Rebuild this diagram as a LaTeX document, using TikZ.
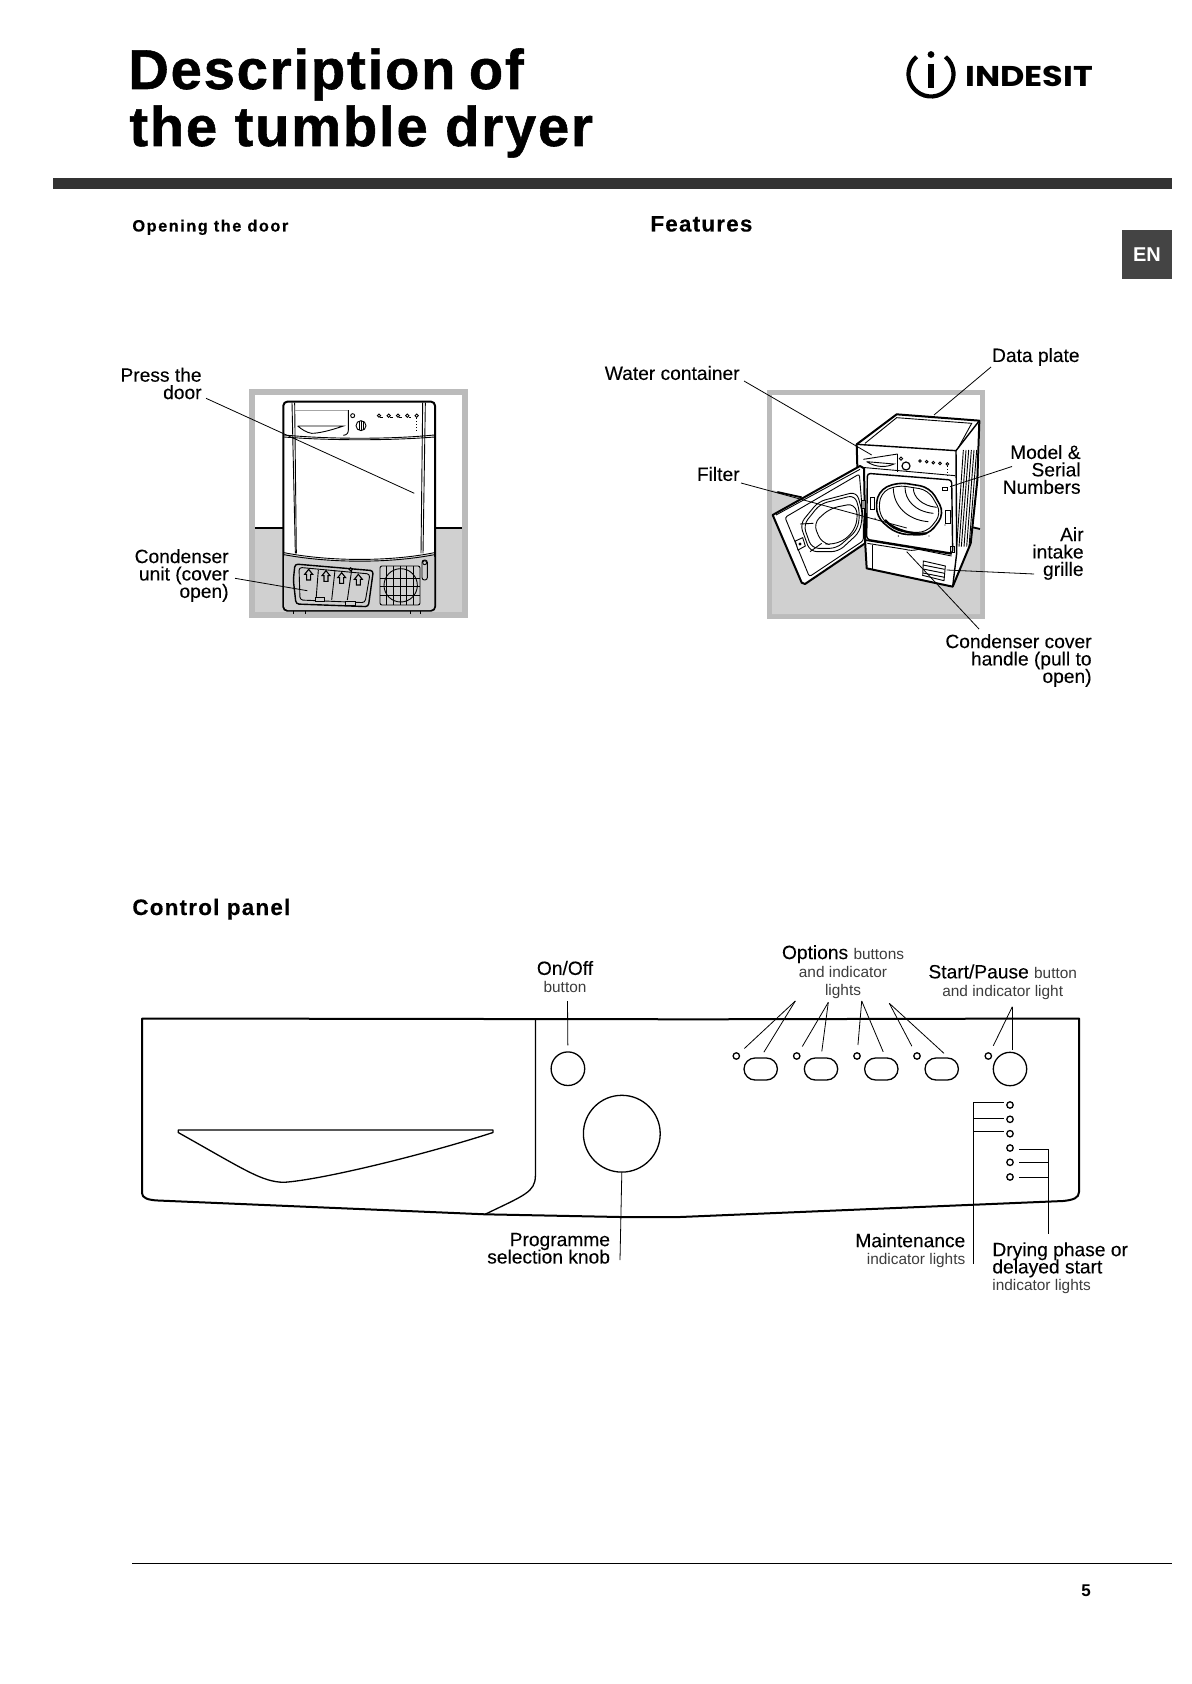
\documentclass[tikz,border=0pt]{standalone}
\usepackage{fontspec}
\usepackage{xcolor}
\usetikzlibrary{calc,shapes.misc}
\setmainfont{Liberation Sans}
\newfontfamily\medfont[FakeBold=0.12]{Liberation Sans}
\newfontfamily\titlefont[LetterSpace=3.4,FakeBold=1]{Liberation Sans Bold}
\newfontfamily\headfont[LetterSpace=5.5,FakeBold=0.3]{Liberation Sans Bold}
\newfontfamily\openfont[LetterSpace=9,FakeBold=0.3]{Liberation Sans Bold}
\newfontfamily\logofont{Poppins}
\definecolor{frameGray}{HTML}{BBBBBB}
\definecolor{floorGray}{HTML}{D0D0D0}
\definecolor{ruleDark}{HTML}{333333}
\definecolor{enGray}{HTML}{444444}
\definecolor{thinGray}{HTML}{3C3C3C}
\lineskiplimit=-5pt
\normallineskiplimit=-5pt
\newcommand{\thintext}[1]{{\fontsize{7.7}{9}\selectfont\normalfont\color{thinGray}#1}}
\tikzset{
  lblright/.style={anchor=east,align=right,inner sep=0pt,font=\fontsize{9.6}{8.7}\selectfont\medfont},
  lblcenter/.style={align=center,inner sep=0pt,font=\fontsize{9.6}{9}\selectfont\medfont},
  lblleft/.style={anchor=west,align=left,inner sep=0pt,font=\fontsize{9.6}{8.6}\selectfont\medfont},
  heading/.style={anchor=base west,inner sep=0pt},
  leader/.style={line width=0.4pt},
  panelline/.style={line width=0.65pt},
  ledlight/.style={circle,draw,line width=0.65pt,inner sep=0pt,minimum size=3.2pt},
  optbutton/.style={rounded rectangle,draw,line width=0.65pt,inner sep=0pt,minimum width=16.7pt,minimum height=11pt},
  roundbutton/.style={circle,draw,line width=0.65pt,inner sep=0pt},
  drawn/.style={line width=0.45pt},
  heavy/.style={line width=1pt,line join=round},
  zoomfront/.style={shift={(230,380)},x=0.16667pt,y=-0.16667pt},
  zoomopen/.style={shift={(750,380)},x=0.16667pt,y=-0.16667pt},
}
\begin{document}
\begin{tikzpicture}[x=0.5pt,y=-0.5pt]
    \useasboundingbox (0,0) rectangle (1191,1684);
    % page furniture
    \node[heading,font=\fontsize{28}{29}\selectfont\titlefont] (titleA) at (128,89) {Description\hspace{-2pt} of};
    \node[heading,font=\fontsize{28}{29}\selectfont\titlefont] (titleB) at (129,146) {the tumble dryer};
    \fill[ruleDark] (53,178) rectangle (1172,189);
    \node[fill=enGray,text=white,font=\fontsize{10}{10}\selectfont\bfseries,minimum width=25pt,minimum height=24.5pt,inner sep=0pt] (enTab) at (1147,254.5) {EN\hspace{5.4pt}};
    \draw[line width=0.8pt] (132,1563.5) -- (1172,1563.5);
    \node[font=\fontsize{8.5}{9}\selectfont\bfseries,inner sep=0pt] (pageNum) at (1086,1591) {5};
    \node[heading,font=\fontsize{8.2}{9}\selectfont\openfont] (openHead) at (132,231.5) {Opening the door};
    \node[heading,font=\fontsize{11.2}{12}\selectfont\headfont] (featHead) at (650,231.5) {Features};
    \node[heading,font=\fontsize{11.2}{12}\selectfont\headfont] (ctrlHead) at (132,915) {Control panel};
    % logo
    \draw[line width=2.1pt] (931,74) ++(-50:22.5) arc[start angle=-50,end angle=230,radius=22.5];
    \draw[line width=2.7pt] (931,64) -- (931,88);
    \fill (931,54.5) circle (3.4);
    \node[anchor=west,inner sep=0pt,font=\fontsize{14.3}{15}\selectfont\logofont\bfseries,xscale=1.17] (logoText) at (965,76) {INDESIT};
    % dryer seen from the front
    \begin{scope}[zoomfront]
        \fill[frameGray] (57,27) rectangle (714,715);
        \fill[white] (75,45) rectangle (697,697);
        \fill[floorGray] (75,445) rectangle (697,697);
        \draw[line width=0.9pt] (75,445) -- (697,445);
        \filldraw[fill=white,heavy,rounded corners=2pt] (160,65) rectangle (615,692);
        \fill[floorGray,rounded corners=2pt] (162,520) .. controls (300,548) and (480,548) .. (613,520) -- (613,690) -- (162,690) -- cycle;
        \draw[drawn] (162,518) .. controls (300,545) and (480,545) .. (613,518);
        \draw[drawn] (162,524) .. controls (300,550) and (480,550) .. (613,524);
        \draw[drawn] (162,165) .. controls (300,178) and (480,178) .. (613,165);
        \draw[drawn] (162,171) .. controls (300,182) and (480,182) .. (613,171);
        \foreach \x/\y in {186/196,194/199,586/579,578/573}
            \draw[drawn] (\x,68) -- (\y,520);
        \draw[drawn] (355,90) -- (355,150) .. controls (355,160) and (350,165) .. (340,166);
        \draw[drawn,black!35] (194,90) -- (355,90);
        \draw[drawn] (203,138) -- (340,138) .. controls (300,152) and (265,160) .. (245,160) .. controls (230,158) and (215,148) .. (203,138);
        \draw[drawn] (368,107) circle (6);
        \draw[drawn] (393,137) circle (15);
        \foreach \x in {387,393,399}
            \draw[drawn] (\x,124) -- (\x,150);
        \foreach \x in {447,476,504,532,560}
            \draw[drawn] (\x,107) circle (5);
        \foreach \x in {447,476,504,532}
            \draw[drawn] (\x+4,112) -- (\x+12,112);
        \draw[drawn,densely dotted] (558,115) -- (558,158);
        % condenser flap
        \draw[heavy,line width=0.7pt,rounded corners=1.5pt] (195,552) -- (430,572) -- (415,680) -- (198,672) -- (190,600) -- cycle;
        \draw[drawn,rounded corners=1.5pt] (207,562) -- (420,582) -- (405,668) -- (210,660) -- cycle;
        \foreach \x/\y in {236/583,288/587,335/593,385/598}
            \draw[drawn,line width=0.55pt] (\x-6,\y+17) -- (\x-6,\y) -- (\x-12,\y) -- (\x,\y-15) -- (\x+12,\y) -- (\x+6,\y) -- (\x+6,\y+17) -- cycle;
        \foreach \x/\y in {265/258,315/305,365/352}
            \draw[drawn] (\x,570) -- (\y,660);
        \filldraw[drawn,fill=floorGray] (255,653) rectangle (282,665);
        \filldraw[drawn,fill=floorGray] (347,664) rectangle (375,676);
        \draw[drawn] (362,568) circle (5);
        \draw[drawn] (340,565) -- (357,565);
        % grille
        \draw[drawn,rounded corners=1pt] (450,558) rectangle (570,675);
        \draw[drawn] (512,616) circle (50);
        \foreach \x in {470,490,510,530,550}
            \draw[drawn] (\x,558) -- (\x,675);
        \foreach \y in {595,620,645}
            \draw[drawn] (450,\y) -- (570,\y);
        \draw[drawn,rounded corners=1.2pt] (576,540) rectangle (592,600);
        \draw[drawn] (584,548) circle (6);
        % feet
        \foreach \x in {190,225,540,572}
            \draw[drawn] (\x,692) -- (\x,702);
    \end{scope}
    % dryer with the door open
    \begin{scope}[zoomopen]
        \fill[frameGray] (52,30) rectangle (704,718);
        \fill[white] (66,44) rectangle (690,702);
        \fill[floorGray] (66,330) -- (340,395) -- (620,430) -- (690,447) -- (690,702) -- (66,702) -- cycle;
        \draw[line width=0.9pt] (82,336) -- (155,352);
        \draw[line width=0.9pt] (660,440) -- (690,447);
        % side and top
        \filldraw[fill=white,heavy] (320,193) -- (440,103) -- (688,122) -- (682,300) -- (662,490) -- (608,620) -- (350,565) -- (345,480) -- (322,262) -- cycle;
        \draw[drawn] (345,190) -- (440,113) -- (665,130) -- (625,203);
        \draw[line width=0.7pt] (320,193) -- (618,212) -- (688,122);
        \draw[line width=0.7pt] (618,212) -- (620,520) -- (608,620);
        \foreach \a/\b in {632/618,640/625,648/632,656/640,664/648,672/655}
            \draw[drawn] (\a+8,210) -- (\b+2,500);
        % control strip
        \draw[drawn] (335,262) -- (615,287);
        \draw[drawn] (443,222) -- (443,276);
        \draw[drawn] (340,238) -- (443,222);
        \draw[drawn] (350,245) -- (432,252) .. controls (410,262) and (380,264) .. (350,245);
        \draw[drawn] (453,236) circle (5);
        \draw[line width=0.6pt] (468,258) circle (12);
        \foreach \x/\y in {510/243,530/245,550/248,570/250,592/252}
            \draw[drawn] (\x,\y) circle (4);
        \draw[drawn,densely dotted] (592,258) -- (592,285);
        % opening and drum
        \draw[line width=0.7pt,rounded corners=1.5pt] (352,280) -- (605,300) -- (608,520) -- (350,478) -- cycle;
        \filldraw[fill=white,line width=0.8pt,rounded corners=5pt] (382,335) -- (440,306) -- (540,322) -- (584,400) -- (535,466) -- (440,462) -- (378,410) -- cycle;
        \draw[drawn,rounded corners=4.5pt] (390,340) -- (440,315) -- (535,330) -- (575,400) -- (530,458) -- (440,455) -- (387,408) -- cycle;
        \draw[drawn] (430,325) .. controls (430,375) and (470,420) .. (535,425);
        \draw[drawn] (465,322) .. controls (465,360) and (495,395) .. (550,400);
        \draw[drawn] (490,325) .. controls (490,350) and (515,378) .. (560,382);
        \draw[line width=1.1pt] (405,420) .. controls (430,450) and (490,465) .. (530,460);
        \draw[drawn] (362,352) rectangle (372,388);
        \draw[drawn] (586,392) rectangle (602,430);
        \draw[drawn] (600,498) rectangle (612,518);
        \draw[drawn] (578,322) rectangle (592,331);
        \foreach \x/\y in {445/468,537/468,375/415,585/435}
            \fill (\x,\y) circle (2);
        % plinth and vent
        \draw[line width=0.8pt] (345,480) -- (605,522);
        \draw[drawn] (352,490) -- (465,508) .. controls (480,512) and (490,512) .. (505,508) -- (605,528);
        \draw[drawn] (368,495) -- (368,570);
        \draw[drawn] (520,543) -- (586,558) -- (582,602) -- (518,586) -- cycle;
        \foreach \y in {555,567,579}
            \draw[drawn] (519,\y) -- (584,\y+13);
        % door
        \filldraw[fill=white,heavy] (68,405) -- (330,258) -- (342,265) -- (345,430) -- (345,490) -- (165,612) -- (155,608) -- cycle;
        \draw[drawn] (78,405) -- (330,268);
        \draw[drawn,rounded corners=1.2pt] (105,412) -- (328,282) -- (340,430) -- (340,482) -- (178,590) -- cycle;
        \draw[drawn,rounded corners=3.5pt] (150,432) -- (205,365) -- (320,335) -- (338,400) -- (330,455) -- (265,515) -- (180,515) -- cycle;
        \draw[drawn,rounded corners=3.5pt] (160,435) -- (210,372) -- (315,345) -- (330,400) -- (322,450) -- (260,505) -- (185,505) -- cycle;
        \draw[drawn,rounded corners=4pt] (190,430) -- (240,385) -- (315,370) -- (325,420) -- (300,470) -- (250,495) -- (215,490) -- cycle;
        \draw[drawn] (150,432) -- (190,430);
        \draw[drawn] (180,515) -- (215,490);
        \filldraw[drawn,fill=white] (136,483) -- (158,473) -- (166,498) -- (144,510) -- cycle;
        \fill (150,492) circle (5);
        \filldraw[drawn,fill=black!40] (333,360) rectangle (345,385);
    \end{scope}
    % labels of the two dryers
    \node[lblright] (pressLbl) at (202,383.5) {Press the\\door};
    \node[lblright] (condLbl) at (229,575.5) {Condenser\\unit (cover\\open)};
    \node[lblright] (waterLbl) at (740,373) {Water container};
    \node[lblright] (dataLbl) at (1080,357) {Data plate};
    \node[lblright] (filterLbl) at (740,474) {Filter};
    \node[lblright] (modelLbl) at (1081,469.5) {Model \&\\Serial\\Numbers};
    \node[lblright] (airLbl) at (1084,553.5) {Air\\intake\\grille};
    \node[lblright] (coverLbl) at (1092,660.5) {Condenser cover\\handle (pull to\\open)};
    % leader ends in the drawings
    \foreach \name/\xa/\ya/\xb/\yb in {press/206/398.3/414.3/493.3, cond/235/578.3/307.3/590.7,
        water/744/381/871.7/455, data/991/367/934/415, filter/741/483/906.7/528,
        model/1012/466.5/950/486.7, air/1034/574/946.7/570, cover/979/629/906.7/551.7}
    {
        \coordinate (\name Start) at (\xa,\ya);
        \coordinate (\name End) at (\xb,\yb);
        \draw[leader] (\name Start) -- (\name End);
    }
    % control panel outline
    \draw[line width=1pt,line join=round] (142,1193) -- (142,1018.5) -- (700,1019.3) -- (1079,1018.5) -- (1079,1192)
        .. controls (1079,1198) and (1073,1200) .. (1063,1201) -- (680,1217) -- (620,1217) -- (485,1214.3)
        -- (158,1200.5) .. controls (148,1200) and (142,1198) .. (142,1193) -- cycle;
    \draw[panelline] (535.4,1019.3) -- (535.4,1176) .. controls (535,1192) and (525,1195) .. (485,1214.3);
    \draw[panelline,line join=round] (178.2,1130) -- (493,1130) -- (493,1132.5) .. controls (420,1156) and (320,1180) .. (284,1182.3)
        .. controls (262,1182) and (245,1170) .. (178.2,1132.5) -- cycle;
    % controls
    \node[roundbutton,minimum size=16.8pt] (onBtn) at (567.9,1068.7) {};
    \node[roundbutton,minimum size=38.4pt] (knobBtn) at (621.8,1133.7) {};
    \node[roundbutton,minimum size=16.7pt] (startBtn) at (1010,1069) {};
    \node[ledlight] (startLed) at (988.3,1056) {};
    \foreach \tag/\lx/\bx in {A/736.3/760.7, B/796.7/821, C/857/881.3, D/917/941.7}
    {
        \node[ledlight] (led\tag) at (\lx,1056) {};
        \node[optbutton] (btn\tag) at (\bx,1069) {};
    }
    \foreach \n/\y in {1/1105,2/1119.3,3/1133.7,4/1148,5/1162.3,6/1177}
        \node[ledlight] (panelLed\n) at (1010,\y) {};
    % control labels
    \node[lblcenter] (onLbl) at (565,977) {On/Off\\\thintext{button}};
    \node[lblcenter] (optLbl) at (843,971.7) {Options \thintext{buttons}\\\thintext{and indicator}\\\thintext{lights}};
    \node[lblcenter] (startLbl) at (1002.7,982) {Start/Pause \thintext{button}\\\thintext{and indicator light}};
    \node[lblright] (knobLbl) at (610.4,1248.3) {Programme\\selection knob};
    \node[lblright] (mntLbl) at (965.7,1250.5) {Maintenance\\\thintext{indicator lights}};
    \node[lblleft] (dryLbl) at (992,1268) {Drying phase or\\delayed start\\\thintext{indicator lights}};
    % control leaders
    \coordinate (onTop) at (567.5,1001);
    \coordinate (knobEnd) at (620,1260);
    \coordinate (apexA) at (795.3,1001);
    \coordinate (apexB) at (828.3,1002.3);
    \coordinate (apexC) at (861.7,1001);
    \coordinate (apexD) at (889.3,1003.3);
    \coordinate (apexS) at (1012.3,1006.7);
    \draw[leader,shorten >=3pt] (onTop) -- (onBtn.north);
    \draw[leader] (knobBtn.south) -- (knobEnd);
    \foreach \tag/\anc in {A/north, B/north, C/70, D/60}
    {
        \draw[leader,shorten >=3.6pt] (apex\tag) -- (led\tag);
        \draw[leader,shorten >=3pt] (apex\tag) -- (btn\tag.\anc);
    }
    \draw[leader,shorten >=3.8pt] (apexS) -- (startLed);
    \draw[leader,shorten >=1pt] (apexS) -- (apexS |- startBtn.north);
    \coordinate (mntTop) at (973.3,1102.3);
    \coordinate (mntMid) at (973.3,1118.3);
    \coordinate (mntLow) at (973.3,1131.3);
    \coordinate (mntEnd) at (973.3,1264.3);
    \draw[leader] (mntTop) -- (mntEnd);
    \foreach \c/\n in {mntTop/1,mntMid/2,mntLow/3}
        \draw[leader,shorten >=1.2pt] (\c) -- (\c -| panelLed\n.west);
    \coordinate (dryTop) at (1048.3,1149.3);
    \coordinate (dryMid) at (1048.3,1162.3);
    \coordinate (dryLow) at (1048.3,1177.3);
    \coordinate (dryEnd) at (1048.3,1234.3);
    \draw[leader] (dryTop) -- (dryEnd);
    \foreach \c/\n in {dryTop/4,dryMid/5,dryLow/6}
        \draw[leader,shorten >=2.5pt] (\c) -- (\c -| panelLed\n.east);
\end{tikzpicture}
\end{document}
